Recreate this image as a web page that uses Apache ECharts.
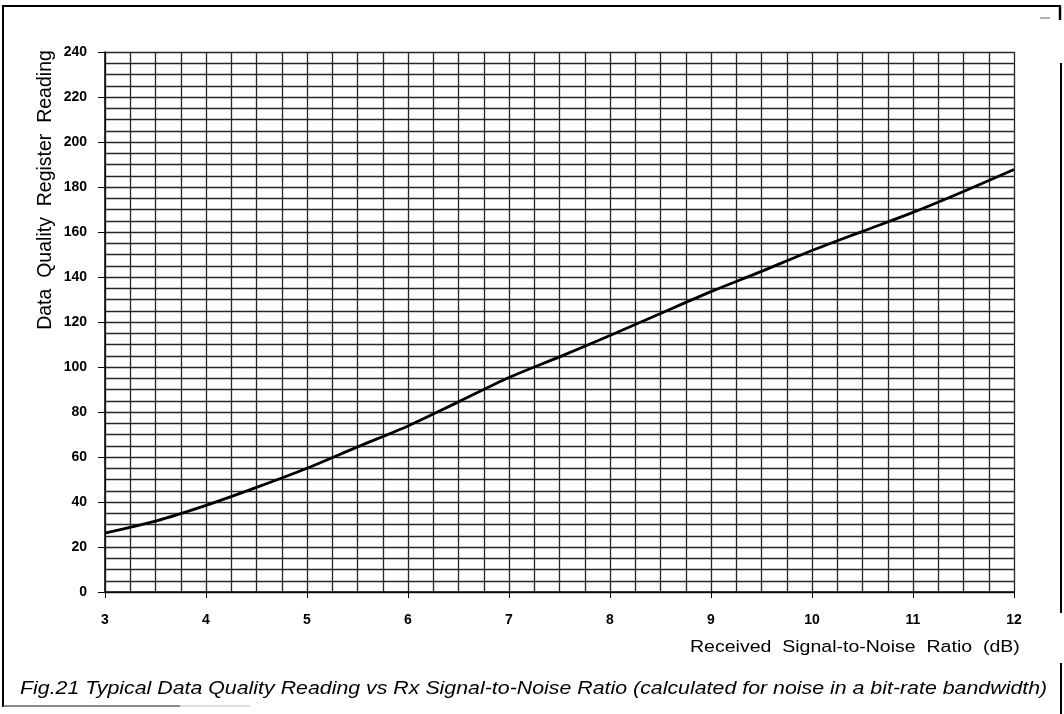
<!DOCTYPE html>
<html>
<head>
<meta charset="utf-8">
<script src="https://cdn.jsdelivr.net/npm/echarts@6/dist/echarts.min.js"></script>
<style>
html,body{margin:0;padding:0;background:#fff;}
#chart{width:1064px;height:714px;}
</style>
</head>
<body>
<div id="chart"></div>
<script>
// Received SNR (dB)
var snr = [3, 3.5, 4, 4.5, 5, 5.5, 6, 6.5, 7, 7.5, 8, 8.5, 9, 9.5, 10, 10.5, 11, 11.5, 12];
// Data quality register reading
var reading = [26.2, 31.5, 38.5, 46.5, 55, 64.5, 73.8, 84.5, 95.3, 104.5, 114, 123.8, 133.5, 142.5, 151.8, 160.3, 168.7, 178, 187.8];
var xTitle = 'Received  Signal-to-Noise  Ratio  (dB)';
var yTitle = 'Data  Quality  Register  Reading';
var caption = 'Fig.21 Typical Data Quality Reading vs Rx Signal-to-Noise Ratio (calculated for noise in a bit-rate bandwidth)';

var chart = echarts.init(document.getElementById('chart'), null, {renderer: 'canvas'});
var font = 'Liberation Sans, Arial, Helvetica, sans-serif';
var gridColor = '#262626';
chart.setOption({
  backgroundColor: '#fff',
  animation: false,
  grid: {left: 105, right: 50, top: 52, bottom: 122, show: false},
  xAxis: {
    type: 'value', min: 3, max: 12, interval: 1,
    axisLine: {show: true, onZero: false, lineStyle: {color: '#000', width: 1.5}},
    axisTick: {show: true, length: 6, lineStyle: {color: '#000'}},
    axisLabel: {color: '#000', fontFamily: font, fontSize: 14, fontWeight: 'bold', margin: 21},
    splitLine: {show: true, lineStyle: {color: gridColor, width: 1.3}},
    minorTick: {show: true, splitNumber: 4, length: 0},
    minorSplitLine: {show: true, lineStyle: {color: gridColor, width: 1.3}}
  },
  yAxis: {
    type: 'value', min: 0, max: 240, interval: 20,
    axisLine: {show: true, lineStyle: {color: '#000', width: 1.5}},
    axisTick: {show: true, length: 7, lineStyle: {color: '#000'}},
    axisLabel: {color: '#000', fontFamily: font, fontSize: 14, fontWeight: 'bold', margin: 18},
    splitLine: {show: true, lineStyle: {color: gridColor, width: 1.3}},
    minorTick: {show: true, splitNumber: 4, length: 0},
    minorSplitLine: {show: true, lineStyle: {color: gridColor, width: 1.3}}
  },
  series: [{
    type: 'line',
    data: snr.map(function (x, i) { return [x, reading[i]]; }),
    smooth: 0.3,
    showSymbol: false,
    lineStyle: {color: '#000', width: 2.8},
    z: 5
  }],
  graphic: [
    {type: 'text', x: 690, y: 648, scaleX: 1.22, style: {text: xTitle, font: '16px ' + font, fill: '#000', textVerticalAlign: 'middle'}},
    {type: 'text', x: 46, y: 190, rotation: Math.PI / 2, style: {text: yTitle, font: '19.5px ' + font, fill: '#000', textAlign: 'center', textVerticalAlign: 'middle'}},
    {type: 'text', x: 20, y: 689, scaleX: 1.186, style: {text: caption, font: 'italic 18px ' + font, fill: '#000', textVerticalAlign: 'middle'}},
    {type: 'line', shape: {x1: 3, y1: 5, x2: 3, y2: 707}, style: {stroke: '#000', lineWidth: 2}},
    {type: 'line', shape: {x1: 3, y1: 6, x2: 1061, y2: 6}, style: {stroke: '#000', lineWidth: 2}},
    {type: 'line', shape: {x1: 1060, y1: 6, x2: 1060, y2: 20}, style: {stroke: '#000', lineWidth: 2.5}},
    {type: 'line', shape: {x1: 1040, y1: 18, x2: 1050, y2: 18}, style: {stroke: '#666', lineWidth: 1}},
    {type: 'line', shape: {x1: 1061, y1: 63, x2: 1061, y2: 613}, style: {stroke: '#000', lineWidth: 2}},
    {type: 'line', shape: {x1: 1061, y1: 663, x2: 1061, y2: 714}, style: {stroke: '#000', lineWidth: 2}},
    {type: 'line', shape: {x1: 3, y1: 706, x2: 180, y2: 706}, style: {stroke: '#666', lineWidth: 1.5}},
    {type: 'line', shape: {x1: 180, y1: 706, x2: 250, y2: 706}, style: {stroke: '#bbb', lineWidth: 1}}
  ]
});
</script>
</body>
</html>
